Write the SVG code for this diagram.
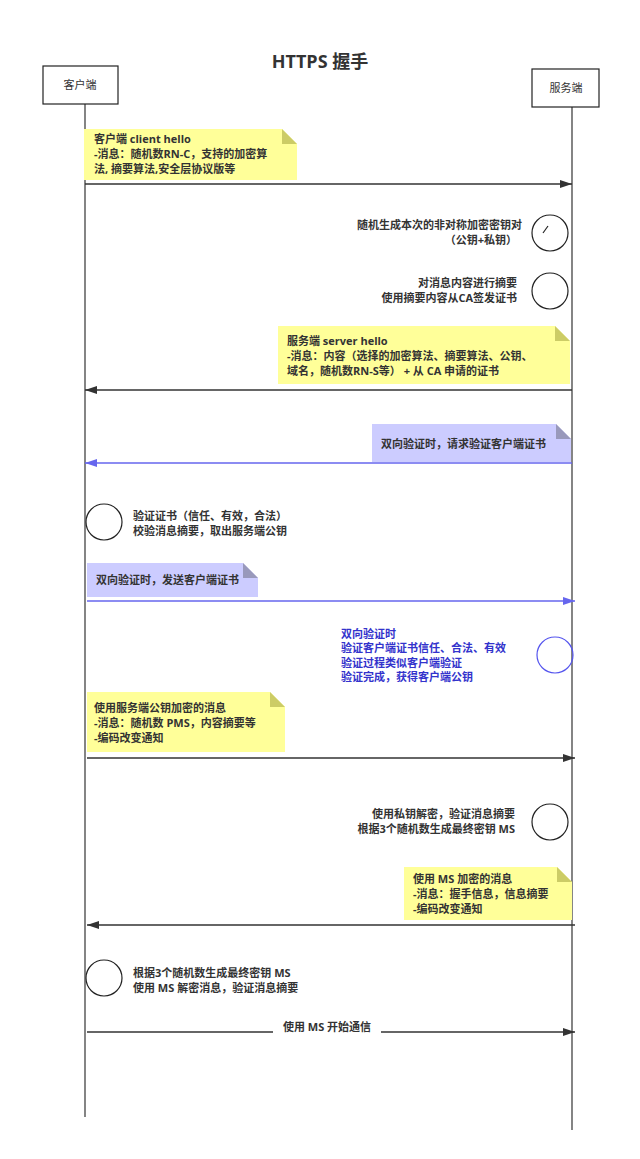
<svg xmlns="http://www.w3.org/2000/svg" width="640" height="1159" viewBox="0 0 640 1159">
<defs>
<marker id="ah" markerWidth="12" markerHeight="8" refX="12" refY="4" orient="auto" markerUnits="userSpaceOnUse"><path d="M0,0 L12,4 L0,8 Z" fill="#333"/></marker>
<marker id="ahb" markerWidth="12" markerHeight="8" refX="12" refY="4" orient="auto" markerUnits="userSpaceOnUse"><path d="M0,0 L12,4 L0,8 Z" fill="#6666ee"/></marker>
</defs>
<style>
text{font-family:"Open Sans","Noto Sans CJK SC",sans-serif;font-size:11px;font-weight:bold;fill:#333}
.r{text-anchor:end}
.b{fill:#3333cc}
.box{fill:#fff;stroke:#222;stroke-width:1.2}
.life{stroke:#333;stroke-width:1.2}
.ny{fill:#ffff99}.nyf{fill:#cccc66}
.nb{fill:#ccccff}.nbf{fill:#9999bb}
.m{stroke:#333;stroke-width:1.3;marker-end:url(#ah)}
.mb{stroke:#6666ee;stroke-width:1.5;marker-end:url(#ahb)}
.c{fill:none;stroke:#222;stroke-width:1.2}
.cb{fill:none;stroke:#5555ee;stroke-width:1.2}
</style>
<rect width="640" height="1159" fill="#fff"/>
<text x="320" y="68" style="font-size:18px;text-anchor:middle">HTTPS 握手</text>
<g id="client"><line class="life" x1="85" y1="104" x2="85" y2="1117"/><rect class="box" x="43" y="66" width="75" height="38"/><text x="80" y="89" style="font-weight:normal;text-anchor:middle">客户端</text></g>
<g id="server"><line class="life" x1="572" y1="107" x2="572" y2="1130"/><rect class="box" x="532" y="69" width="67" height="38"/><text x="566" y="92" style="font-weight:normal;text-anchor:middle">服务端</text></g>
<g id="connectors">
<line class="m" x1="85" y1="184" x2="572" y2="184"/>
<line class="m" x1="572" y1="390" x2="85" y2="390"/>
<line class="mb" x1="572" y1="463" x2="85" y2="463"/>
<line class="mb" x1="87" y1="601" x2="575" y2="601"/>
<line class="m" x1="87" y1="758" x2="575" y2="758"/>
<line class="m" x1="575" y1="925" x2="87" y2="925"/>
<line class="m" x1="87" y1="1032" x2="575" y2="1032"/>
</g>
<g id="n1"><path class="ny" d="M84,129 H282 L297,144 V180 H84 Z"/><path class="nyf" d="M282,129 L297,144 H282 Z"/>
<text x="94" y="143">客户端 client hello</text><text x="94" y="158">-消息：随机数RN-C，支持的加密算</text><text x="94" y="173">法, 摘要算法,安全层协议版等</text></g>
<g id="s1"><circle class="c" cx="550" cy="233" r="18"/><path class="c" d="M548,226 L543,233"/><text class="r" x="522" y="229">随机生成本次的非对称加密密钥对</text><text class="r" x="517" y="244">（公钥+私钥）</text></g>
<g id="s2"><circle class="c" cx="550" cy="291" r="18"/><text class="r" x="517" y="287">对消息内容进行摘要</text><text class="r" x="517" y="302">使用摘要内容从CA签发证书</text></g>
<g id="n2"><path class="ny" d="M278,326 H555 L570,341 V384 H278 Z"/><path class="nyf" d="M555,326 L570,341 H555 Z"/>
<text x="287" y="345">服务端 server hello</text><text x="287" y="360">-消息：内容（选择的加密算法、摘要算法、公钥、</text><text x="287" y="375">域名，随机数RN-S等） +  从 CA 申请的证书</text></g>
<g id="n3"><path class="nb" d="M372,424 H556 L571,439 V462 H372 Z"/><path class="nbf" d="M556,424 L571,439 H556 Z"/><text x="381" y="448">双向验证时，请求验证客户端证书</text></g>
<g id="c1"><circle class="c" cx="104" cy="522" r="18"/><text x="133" y="520">验证证书（信任、有效，合法）</text><text x="133" y="535">校验消息摘要，取出服务端公钥</text></g>
<g id="n4"><path class="nb" d="M87,563 H243 L258,578 V597 H87 Z"/><path class="nbf" d="M243,563 L258,578 H243 Z"/><text x="96" y="584">双向验证时，发送客户端证书</text></g>
<g id="s3"><circle class="cb" cx="555" cy="655" r="18"/><text class="b" x="341" y="638">双向验证时</text><text class="b" x="341" y="652">验证客户端证书信任、合法、有效</text><text class="b" x="341" y="667">验证过程类似客户端验证</text><text class="b" x="341" y="681">验证完成，获得客户端公钥</text></g>
<g id="n5"><path class="ny" d="M87,692 H270 L285,707 V752 H87 Z"/><path class="nyf" d="M270,692 L285,707 H270 Z"/>
<text x="94" y="712">使用服务端公钥加密的消息</text><text x="94" y="727">-消息：随机数 PMS，内容摘要等</text><text x="94" y="742">-编码改变通知</text></g>
<g id="s4"><circle class="c" cx="550" cy="822" r="18"/><text class="r" x="515" y="818">使用私钥解密，验证消息摘要</text><text class="r" x="515" y="833">根据3个随机数生成最终密钥 MS</text></g>
<g id="n6"><path class="ny" d="M404,867 H557 L572,882 V920 H404 Z"/><path class="nyf" d="M557,867 L572,882 H557 Z"/>
<text x="413" y="883">使用 MS 加密的消息</text><text x="413" y="898">-消息：握手信息，信息摘要</text><text x="413" y="913">-编码改变通知</text></g>
<g id="c2"><circle class="c" cx="104" cy="978" r="18"/><text x="133" y="977">根据3个随机数生成最终密钥 MS</text><text x="133" y="992">使用 MS 解密消息，验证消息摘要</text></g>
<rect x="273" y="1024" width="108" height="10" fill="#fff"/>
<text x="327" y="1031" style="text-anchor:middle">使用 MS 开始通信</text>
</svg>
